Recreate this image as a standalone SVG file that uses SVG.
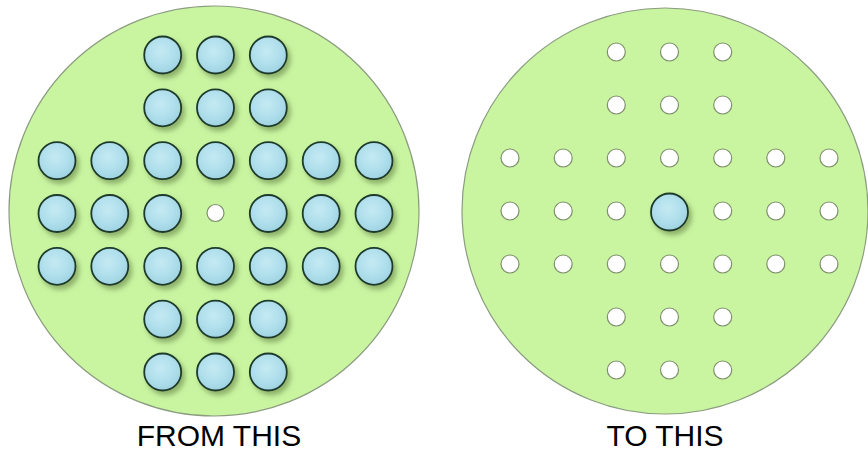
<svg xmlns="http://www.w3.org/2000/svg" width="868" height="452" viewBox="0 0 868 452">
<defs>
<radialGradient id="pegFill" cx="45%" cy="40%" r="60%">
<stop offset="0" stop-color="#c4eaf3"/>
<stop offset="0.6" stop-color="#b0dfec"/>
<stop offset="1" stop-color="#9fd3e2"/>
</radialGradient>
<filter id="shadow" x="-40%" y="-40%" width="190%" height="190%">
<feGaussianBlur in="SourceAlpha" stdDeviation="2.5" result="b"/>
<feOffset in="b" dx="3" dy="4" result="o"/>
<feFlood flood-color="#5d7a3e" flood-opacity="0.55"/>
<feComposite in2="o" operator="in" result="s"/>
<feMerge><feMergeNode in="s"/><feMergeNode in="SourceGraphic"/></feMerge>
</filter>
</defs>
<style>
.board{fill:#c9f5a1;stroke:#8c9c80;stroke-width:1.2}
.peg{fill:url(#pegFill);stroke:#1f3a2c;stroke-width:1.8;filter:url(#shadow)}
.hole{fill:#ffffff;stroke:#7f8f6c;stroke-width:1.2}
.lbl{font-family:"Liberation Sans",Arial,sans-serif;font-size:30px;fill:#000;text-anchor:middle}
</style>
<g id="board-from">
<circle class="board" cx="214" cy="211" r="205"/>
</g>
<g id="board-to">
<circle class="board" cx="665" cy="211" r="203"/>
</g>
<g id="from-pegs">
<g id="L-0-2"><circle class="peg" cx="162.7" cy="55" r="18.5"/></g>
<g id="L-0-3"><circle class="peg" cx="215.5" cy="55" r="18.5"/></g>
<g id="L-0-4"><circle class="peg" cx="268.3" cy="55" r="18.5"/></g>
<g id="L-1-2"><circle class="peg" cx="162.7" cy="107.8" r="18.5"/></g>
<g id="L-1-3"><circle class="peg" cx="215.5" cy="107.8" r="18.5"/></g>
<g id="L-1-4"><circle class="peg" cx="268.3" cy="107.8" r="18.5"/></g>
<g id="L-2-0"><circle class="peg" cx="57" cy="160.7" r="18.5"/></g>
<g id="L-2-1"><circle class="peg" cx="109.8" cy="160.7" r="18.5"/></g>
<g id="L-2-2"><circle class="peg" cx="162.7" cy="160.7" r="18.5"/></g>
<g id="L-2-3"><circle class="peg" cx="215.5" cy="160.7" r="18.5"/></g>
<g id="L-2-4"><circle class="peg" cx="268.3" cy="160.7" r="18.5"/></g>
<g id="L-2-5"><circle class="peg" cx="321.2" cy="160.7" r="18.5"/></g>
<g id="L-2-6"><circle class="peg" cx="374" cy="160.7" r="18.5"/></g>
<g id="L-3-0"><circle class="peg" cx="57" cy="213.5" r="18.5"/></g>
<g id="L-3-1"><circle class="peg" cx="109.8" cy="213.5" r="18.5"/></g>
<g id="L-3-2"><circle class="peg" cx="162.7" cy="213.5" r="18.5"/></g>
<g id="L-3-3"><circle class="hole" cx="215.5" cy="213" r="8.5"/></g>
<g id="L-3-4"><circle class="peg" cx="268.3" cy="213.5" r="18.5"/></g>
<g id="L-3-5"><circle class="peg" cx="321.2" cy="213.5" r="18.5"/></g>
<g id="L-3-6"><circle class="peg" cx="374" cy="213.5" r="18.5"/></g>
<g id="L-4-0"><circle class="peg" cx="57" cy="266.3" r="18.5"/></g>
<g id="L-4-1"><circle class="peg" cx="109.8" cy="266.3" r="18.5"/></g>
<g id="L-4-2"><circle class="peg" cx="162.7" cy="266.3" r="18.5"/></g>
<g id="L-4-3"><circle class="peg" cx="215.5" cy="266.3" r="18.5"/></g>
<g id="L-4-4"><circle class="peg" cx="268.3" cy="266.3" r="18.5"/></g>
<g id="L-4-5"><circle class="peg" cx="321.2" cy="266.3" r="18.5"/></g>
<g id="L-4-6"><circle class="peg" cx="374" cy="266.3" r="18.5"/></g>
<g id="L-5-2"><circle class="peg" cx="162.7" cy="319.2" r="18.5"/></g>
<g id="L-5-3"><circle class="peg" cx="215.5" cy="319.2" r="18.5"/></g>
<g id="L-5-4"><circle class="peg" cx="268.3" cy="319.2" r="18.5"/></g>
<g id="L-6-2"><circle class="peg" cx="162.7" cy="372" r="18.5"/></g>
<g id="L-6-3"><circle class="peg" cx="215.5" cy="372" r="18.5"/></g>
<g id="L-6-4"><circle class="peg" cx="268.3" cy="372" r="18.5"/></g>
</g>
<g id="to-holes">
<g id="R-0-2"><circle class="hole" cx="616.3" cy="52" r="9"/></g>
<g id="R-0-3"><circle class="hole" cx="669.5" cy="52" r="9"/></g>
<g id="R-0-4"><circle class="hole" cx="722.7" cy="52" r="9"/></g>
<g id="R-1-2"><circle class="hole" cx="616.3" cy="105" r="9"/></g>
<g id="R-1-3"><circle class="hole" cx="669.5" cy="105" r="9"/></g>
<g id="R-1-4"><circle class="hole" cx="722.7" cy="105" r="9"/></g>
<g id="R-2-0"><circle class="hole" cx="510" cy="158" r="9"/></g>
<g id="R-2-1"><circle class="hole" cx="563.2" cy="158" r="9"/></g>
<g id="R-2-2"><circle class="hole" cx="616.3" cy="158" r="9"/></g>
<g id="R-2-3"><circle class="hole" cx="669.5" cy="158" r="9"/></g>
<g id="R-2-4"><circle class="hole" cx="722.7" cy="158" r="9"/></g>
<g id="R-2-5"><circle class="hole" cx="775.8" cy="158" r="9"/></g>
<g id="R-2-6"><circle class="hole" cx="829" cy="158" r="9"/></g>
<g id="R-3-0"><circle class="hole" cx="510" cy="211" r="9"/></g>
<g id="R-3-1"><circle class="hole" cx="563.2" cy="211" r="9"/></g>
<g id="R-3-2"><circle class="hole" cx="616.3" cy="211" r="9"/></g>
<g id="R-3-3"><circle class="peg" cx="669.5" cy="212" r="18.5"/></g>
<g id="R-3-4"><circle class="hole" cx="722.7" cy="211" r="9"/></g>
<g id="R-3-5"><circle class="hole" cx="775.8" cy="211" r="9"/></g>
<g id="R-3-6"><circle class="hole" cx="829" cy="211" r="9"/></g>
<g id="R-4-0"><circle class="hole" cx="510" cy="264" r="9"/></g>
<g id="R-4-1"><circle class="hole" cx="563.2" cy="264" r="9"/></g>
<g id="R-4-2"><circle class="hole" cx="616.3" cy="264" r="9"/></g>
<g id="R-4-3"><circle class="hole" cx="669.5" cy="264" r="9"/></g>
<g id="R-4-4"><circle class="hole" cx="722.7" cy="264" r="9"/></g>
<g id="R-4-5"><circle class="hole" cx="775.8" cy="264" r="9"/></g>
<g id="R-4-6"><circle class="hole" cx="829" cy="264" r="9"/></g>
<g id="R-5-2"><circle class="hole" cx="616.3" cy="317" r="9"/></g>
<g id="R-5-3"><circle class="hole" cx="669.5" cy="317" r="9"/></g>
<g id="R-5-4"><circle class="hole" cx="722.7" cy="317" r="9"/></g>
<g id="R-6-2"><circle class="hole" cx="616.3" cy="370" r="9"/></g>
<g id="R-6-3"><circle class="hole" cx="669.5" cy="370" r="9"/></g>
<g id="R-6-4"><circle class="hole" cx="722.7" cy="370" r="9"/></g>
</g>
<g id="connectors"/>
<g id="labels">
<text class="lbl" x="219" y="446">FROM THIS</text>
<text class="lbl" x="665" y="446">TO THIS</text>
</g>
</svg>
